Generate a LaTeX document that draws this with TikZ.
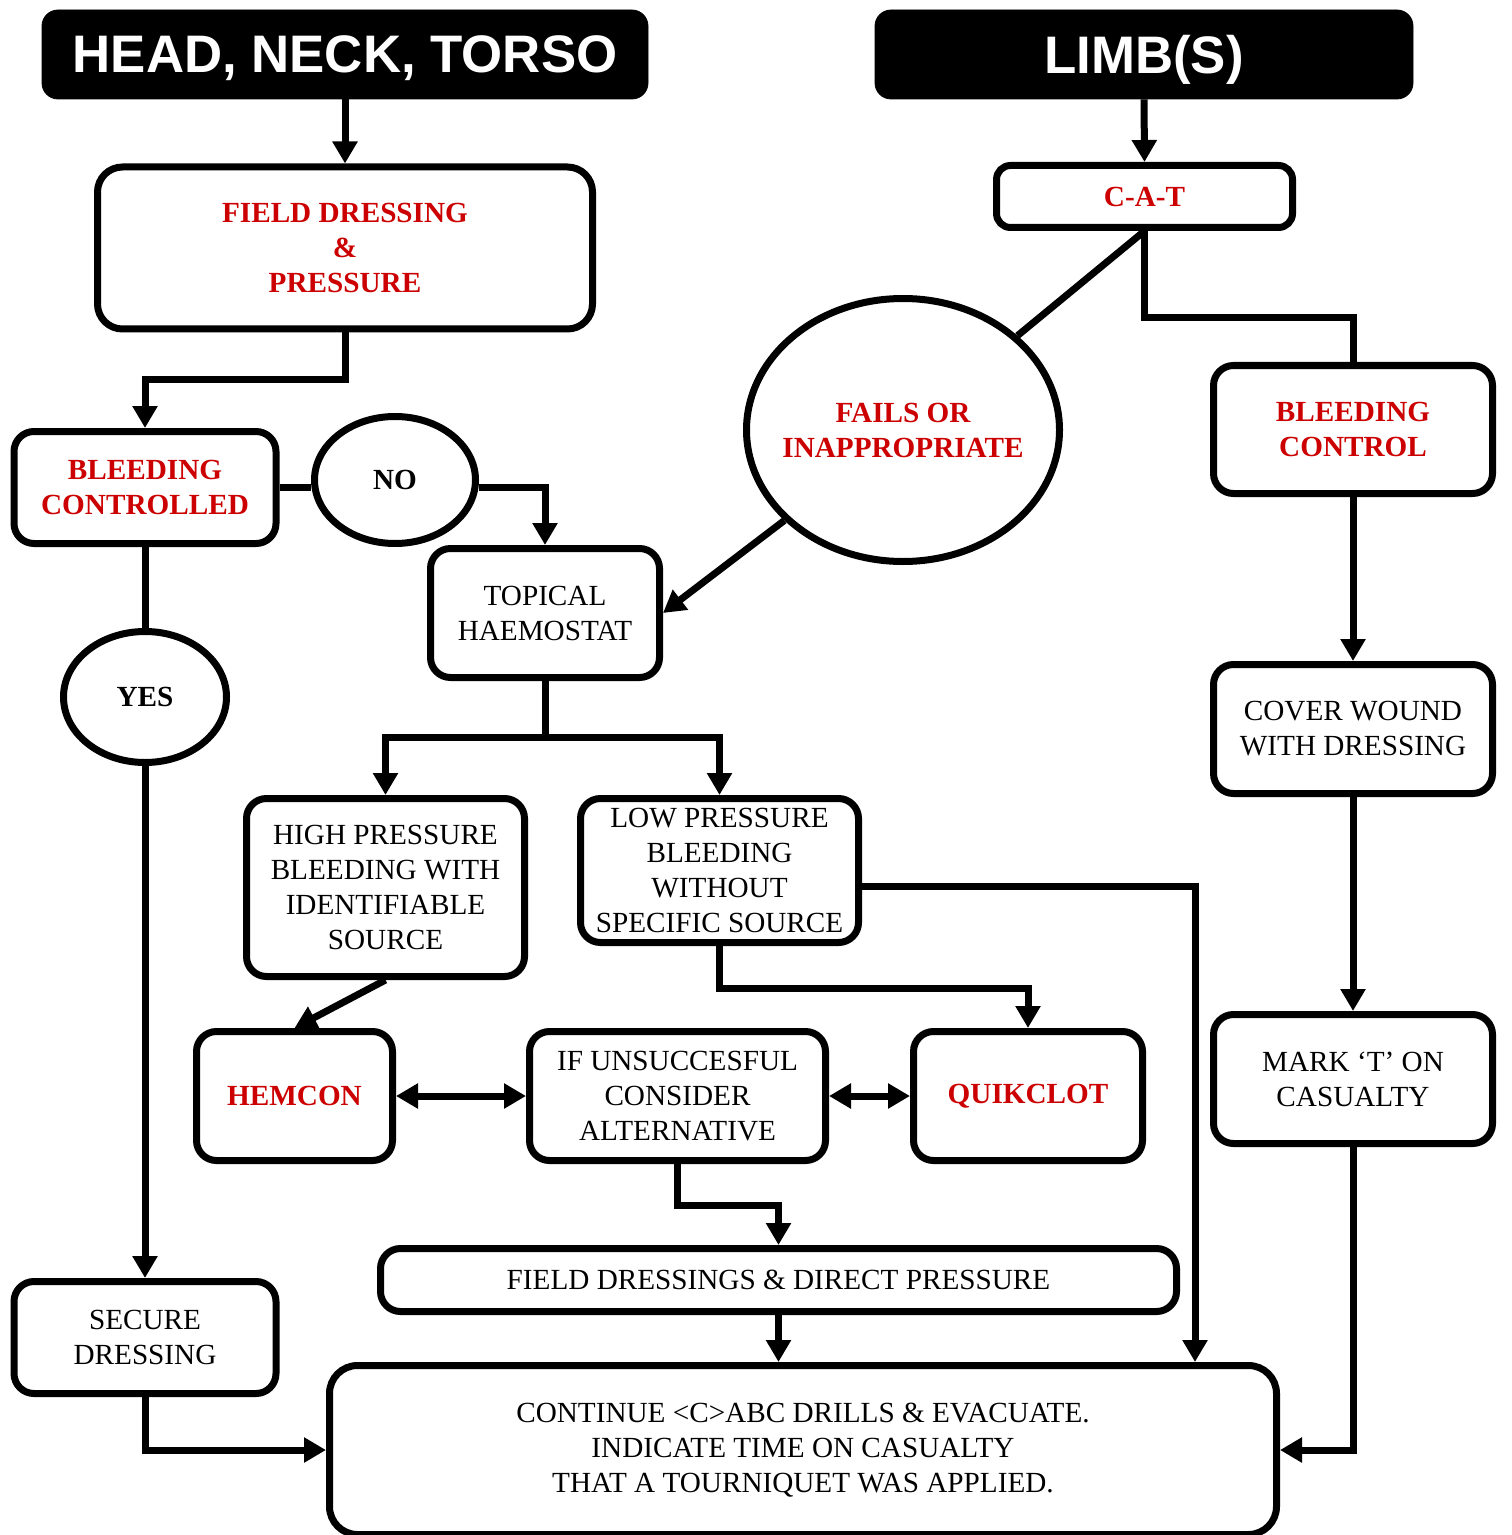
\documentclass[tikz,border=0pt]{standalone}
\usepackage{fontspec}
\setmainfont{Liberation Serif}
\newfontfamily\titlefont{Liberation Sans}
\usetikzlibrary{arrows.meta,shapes.geometric,calc}
\definecolor{redtxt}{RGB}{204,0,0}
\begin{document}
\begin{tikzpicture}[x=0.5pt,y=-0.5pt,
 every node/.style={inner sep=2pt},
 box/.style={draw, line width=3.5pt, rounded corners=10pt, align=center, fill=white,
   font=\fontsize{14.6}{17.5}\selectfont},
 redbox/.style={box, text=redtxt, font=\fontsize{14.6}{17.5}\selectfont\bfseries},
 titlebox/.style={fill=black, draw=black, rounded corners=8pt, text=white, text depth=0pt,
   font=\titlefont\fontsize{26.4}{30}\selectfont\bfseries},
 oval/.style={ellipse, draw, line width=3.5pt, align=center, fill=white,
   font=\fontsize{14.6}{17.5}\selectfont\bfseries},
 ovaltext/.style={align=center, text=redtxt, font=\fontsize{14.6}{17.5}\selectfont\bfseries},
 link/.style={line width=3.5pt},
 arr/.style={link, -{Triangle[width=12pt,length=11pt]}},
 dbl/.style={link, {Triangle[width=12pt,length=11pt]}-{Triangle[width=12pt,length=11pt]}},
]
\useasboundingbox (0,0) rectangle (1511,1535);

% titles
\node[titlebox, minimum width=303pt, minimum height=44.5pt] (head) at (345,54.5) {HEAD, NECK, TORSO};
\node[titlebox, minimum width=269pt, minimum height=44.5pt] (limb) at (1144,54.5) {LIMB(S)};

% left column
\node[redbox, rounded corners=12.5pt, minimum width=247.5pt, minimum height=81pt] (field) at (345,248) {FIELD DRESSING\\\&\\PRESSURE};
\node[redbox, minimum width=131pt, minimum height=56pt] (bc) at (145,487.5) {BLEEDING\\CONTROLLED};
\node[oval, minimum width=80.5pt, minimum height=63.5pt] (no) at (395,480) {NO};
\node[oval, minimum width=81.5pt, minimum height=65.5pt] (yes) at (145,697) {YES};
\node[box, minimum width=131pt, minimum height=56pt] (secure) at (145,1337.5) {SECURE\\DRESSING};

% middle
\node[box, minimum width=114.5pt, minimum height=64.5pt] (topical) at (545,613) {TOPICAL\\HAEMOSTAT};
\node[oval, minimum width=156.5pt, minimum height=131.5pt] (fails) at (903,430) {};
\node[ovaltext] (failstext) at (903,430) {FAILS OR\\INAPPROPRIATE};
\node[box, minimum width=139pt, minimum height=89pt] (high) at (385.5,887.5) {HIGH PRESSURE\\BLEEDING WITH\\IDENTIFIABLE\\SOURCE};
\node[box, minimum width=139pt, minimum height=72pt] (low) at (719.5,870.5) {LOW PRESSURE\\BLEEDING\\WITHOUT\\SPECIFIC SOURCE};
\node[redbox, minimum width=98pt, minimum height=64.5pt] (hemcon) at (294.5,1096) {HEMCON};
\node[box, minimum width=148pt, minimum height=64.5pt] (ifun) at (677.5,1096) {IF UNSUCCESFUL\\CONSIDER\\ALTERNATIVE};
\node[redbox, minimum width=114.5pt, minimum height=64.5pt] (quik) at (1028,1096) {QUIKCLOT};
\node[box, minimum width=398pt, minimum height=31.5pt] (fdp) at (778.5,1280) {FIELD DRESSINGS \& DIRECT PRESSURE};
\node[box, rounded corners=14pt, minimum width=473.5pt, minimum height=84.5pt] (cont) at (803,1450) {CONTINUE <C>ABC DRILLS \& EVACUATE.\\INDICATE TIME ON CASUALTY\\THAT A TOURNIQUET WAS APPLIED.};

% right column
\node[redbox, rounded corners=7pt, minimum width=148pt, minimum height=31pt] (cat) at (1144.5,196.5) {C-A-T};
\node[redbox, minimum width=139.5pt, minimum height=64pt] (bctl) at (1353,429.5) {BLEEDING\\CONTROL};
\node[box, minimum width=139.5pt, minimum height=64.5pt] (cover) at (1353,729) {COVER WOUND\\WITH DRESSING};
\node[box, minimum width=139.5pt, minimum height=64.5pt] (mark) at (1353,1079) {MARK ‘T’ ON\\CASUALTY};

% connectors
\draw[arr] (head.south) -- (field.north);
\draw[arr] (limb.south) -- (cat.north);
\draw[arr] (field.south) -- ++(0,47) -| (bc.north);
\draw[link] (bc.east) -- (no.west |- bc.east);
\draw[arr] (no.east |- bc.east) -| (topical.north);
\draw[link] (bc.south) -- (yes.north);
\draw[arr] (yes.south) -- (secure.north);
\draw[arr] (secure.south) |- (cont.west);
\draw[link] (cat.south) -- (fails);
\draw[arr] (fails) -- (topical.east);
\draw[link] (cat.south) -- ++(0,87) -| (bctl.north);
\draw[arr] (bctl.south) -- (cover.north);
\draw[arr] (cover.south) -- (mark.north);
\draw[arr] (mark.south) |- (cont.east);
\draw[link] (topical.south) -- ++(0,56) coordinate (tsplit);
\draw[arr] (tsplit) -| (high.north);
\draw[arr] (tsplit) -| (low.north);
\draw[arr] (high.south) -- (hemcon.north);
\draw[arr] ([yshift=-8pt]low.east) -| ([xshift=196pt]cont.north);
\draw[arr] (low.south) -- ++(0,42) -| (quik.north);
\draw[dbl] (hemcon.east) -- (ifun.west);
\draw[dbl] (ifun.east) -- (quik.west);
\draw[arr] (ifun.south) -- ++(0,41) -| (fdp.north);
\draw[arr] (fdp.south) -- (fdp.south |- cont.north);
\end{tikzpicture}
\end{document}
